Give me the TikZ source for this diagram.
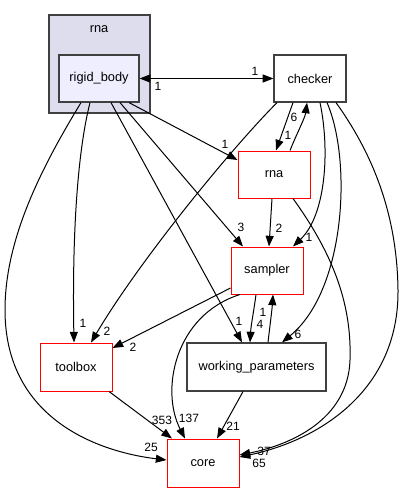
\documentclass[tikz,border=0pt]{standalone}
\usepackage{fontspec}
\setmainfont{Liberation Sans}
\usetikzlibrary{arrows.meta}
\usetikzlibrary{calc,positioning}

\definecolor{clusterfill}{HTML}{DDDDEE}
\definecolor{dirfill}{HTML}{EEEEFF}

\tikzset{
	dirbox/.style={draw=black!75, line width=0.9pt, fill=white, minimum width=54pt, minimum height=35.25pt, inner sep=0pt, font=\fontsize{9.6}{11}\selectfont},
	reddir/.style={dirbox, draw=red, line width=0.75pt},
	edge/.style={line width=0.75pt, -{Triangle[length=8pt,width=6pt]}},
	biedge/.style={line width=0.75pt, {Triangle[length=8pt,width=6pt]}-{Triangle[length=8pt,width=6pt]}},
	lbl/.style={inner sep=0pt, font=\fontsize{9}{10}\selectfont},
}

\begin{document}
\begin{tikzpicture}[x=0.75pt,y=-0.75pt]

		\useasboundingbox (0,0) rectangle (405,492);
		
		% cluster rna
		\draw [fill=clusterfill, draw=black!75, line width=0.9pt] (49,15) rectangle (150,113);
		\node [lbl, font=\fontsize{9.6}{11}\selectfont] (clust) at (99,29) {rna};
		
		\node [dirbox, fill=dirfill, minimum width=60pt] (rb) at (99,78.5) {rigid\_body};
		\node [dirbox] (ch) at (310,78.5) {checker};
		\node [reddir] (rna) at (274,174.5) {rna};
		\node [reddir] (sa) at (267,270.5) {sampler};
		\node [reddir, minimum height=36pt] (tb) at (76,367) {toolbox};
		\node [dirbox, minimum width=104.25pt, minimum height=36pt] (wp) at (256.5,367) {working\_parameters};
		\node [reddir, minimum height=36pt] (co) at (203,463) {core};
		
		\draw [biedge] (rb.east) -- (ch.west);
		\draw [edge] ($(ch.south)+(-17,0)$) -- ($(rna.north)+(2,0)$);
		\draw [edge] ($(rna.north)+(16,0)$) .. controls (297,133) and (305,118) .. ($(ch.south)+(-3,0)$);
		\draw [edge] ($(rb.south)+(30,0)$) -- ($(rna.west)+(0,-14.5)$);
		\draw [edge] ($(rb.south)+(21,0)$) -- ($(sa.north)+(-24,0)$);
		\draw [edge] ($(rna.south)+(-2,0)$) -- ($(sa.north)+(2,0)$);
		\draw [edge] ($(ch.south)+(10,0)$) .. controls (330,150) and (326,215) .. ($(sa.north)+(26,0)$);
		\draw [edge] ($(ch.south)+(17,0)$) .. controls (352,160) and (346,290) .. ($(wp.north)+(25.5,0)$);
		\draw [edge] ($(ch.south)+(26,0)$) .. controls (370,150) and (397,210) .. (398,290) .. controls (399,390) and (320,440) .. ($(co.east)+(0,-6)$);
		\draw [edge] ($(rna.south)+(19,0)$) .. controls (330,250) and (352,300) .. (350,360) .. controls (348,420) and (290,445) .. ($(co.east)+(0,-8)$);
		\draw [edge] ($(ch.south)+(-33,0)$) .. controls (230,150) and (140,260) .. ($(tb.north)+(15,0)$);
		\draw [edge] ($(rb.south)+(-9,0)$) .. controls (78,150) and (72,230) .. ($(tb.north)+(-2,0)$);
		\draw [edge] ($(rb.south)+(-18,0)$) .. controls (40,170) and (5,240) .. (5,310) .. controls (5,420) and (100,452) .. ($(co.west)+(0,-3)$);
		\draw [edge] ($(rb.south)+(12,0)$) -- ($(wp.north)+(-14.5,0)$);
		\draw [edge] ($(sa.west)+(0,17.5)$) -- ($(tb.east)+(0,-19)$);
		\draw [edge] ($(sa.south)+(-27,0)$) .. controls (175,315) and (160,390) .. ($(co.north)+(-18,0)$);
		\draw [edge] ($(sa.south)+(-11,0)$) .. controls (254,310) and (251,325) .. ($(wp.north)+(-6.5,0)$);
		\draw [edge] ($(wp.north)+(11.5,0)$) .. controls (270,325) and (272,310) .. ($(sa.south)+(6,0)$);
		\draw [edge] ($(tb.south)+(33,0)$) -- ($(co.north)+(-31,0)$);
		\draw [edge] ($(wp.south)+(-13.5,0)$) -- ($(co.north)+(14,0)$);
		
		% edge counts
		\node [lbl] (l1) at (255,71) {1};
		\node [lbl] (l2) at (158,86) {1};
		\node [lbl] (l3) at (288,135) {1};
		\node [lbl] (l4) at (294,117) {6};
		\node [lbl] (l5) at (225,144) {1};
		\node [lbl] (l6) at (241,227) {3};
		\node [lbl] (l7) at (279,228) {2};
		\node [lbl] (l8) at (309,237) {1};
		\node [lbl] (l9) at (298,334) {6};
		\node [lbl] (l10) at (264,451) {37};
		\node [lbl] (l11) at (259,463) {65};
		\node [lbl] (l12) at (107,331) {2};
		\node [lbl] (l13) at (83,323) {1};
		\node [lbl] (l14) at (151,447) {25};
		\node [lbl] (l15) at (239,321) {1};
		\node [lbl] (l16) at (133,347) {2};
		\node [lbl] (l17) at (189,418) {137};
		\node [lbl] (l18) at (260,324) {4};
		\node [lbl] (l19) at (263,312) {1};
		\node [lbl] (l20) at (162,420) {353};
		\node [lbl] (l21) at (233,426) {21};
		
\end{tikzpicture}
\end{document}
